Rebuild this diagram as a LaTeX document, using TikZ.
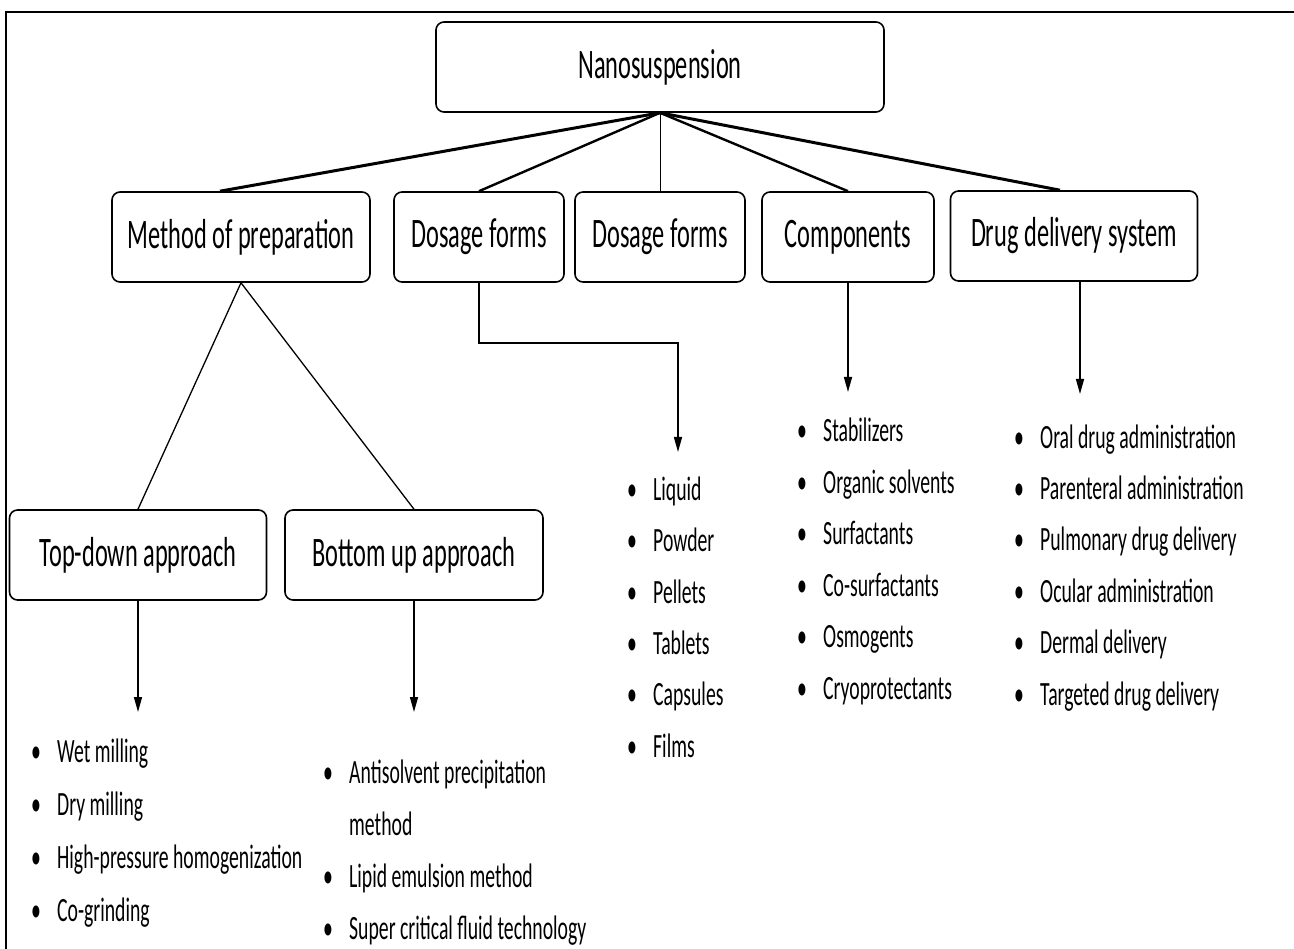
\documentclass[tikz,border=0pt]{standalone}
\usepackage{fontspec}
\newfontfamily\narrowfont[FakeStretch=0.58]{Carlito}
\usetikzlibrary{arrows.meta}

\newcommand{\itm}[1]{\makebox[26pt][l]{\textbullet}#1}

\begin{document}
\begin{tikzpicture}[
      x=1pt, y=-1pt,
      box/.style={
        draw,
        line width=1.6pt,
        rounded corners=8pt,
        minimum height=90pt,
        inner sep=0pt,
        font=\narrowfont\fontsize{42}{50}\selectfont
      },
      list/.style={
        anchor=base west,
        inner sep=0pt,
        align=left,
        font=\narrowfont\fontsize{34}{52}\selectfont
      },
      link/.style={line width=3pt},
      arrow/.style={line width=1.5pt, -{Triangle[length=15pt,width=8pt]}}
    ]

    \useasboundingbox (0,0) rectangle (1294,949);

    % Frame
    \draw[line width=2.5pt] (6,949) -- (6,12) -- (1294,12);

    % Central box
    \node[box, minimum width=448pt] (nano) at (660,67) {Nanosuspension};

    % Second row
    \node[box, minimum width=258pt] (method) at (241,237) {Method of preparation};
    \node[box, minimum width=170pt] (dosA) at (479,237) {Dosage forms};
    \node[box, minimum width=170pt] (dosB) at (660,237) {Dosage forms};
    \node[box, minimum width=172pt] (comp) at (848,237) {Components};
    \node[box, minimum width=247pt] (dds) at (1074,236) {Drug delivery system};

    % Approaches
    \node[box, minimum width=257pt] (topdown) at (138,555) {Top-down approach};
    \node[box, minimum width=258pt] (bottomup) at (414,555) {Bottom up approach};

    % Links from the top
    \draw[link] (nano.south) -- ([xshift=-21pt]method.north);
    \draw[line width=2.4pt] (nano.south) -- (dosA.north);
    \draw[line width=1pt] (nano.south) -- (dosB.north);
    \draw[line width=2.4pt] (nano.south) -- (comp.north);
    \draw[link] (nano.south) -- ([xshift=-14pt]dds.north);

    \draw[line width=1.3pt] (method.south) -- (topdown.north);
    \draw[line width=1.3pt] (method.south) -- (bottomup.north);

    % Arrow ends
    \coordinate (tdEnd) at (138,712);
    \coordinate (buEnd) at (414,712);
    \coordinate (dosEnd) at (678,452);
    \coordinate (compEnd) at (848,392);
    \coordinate (ddsEnd) at (1080,394);

    \draw[arrow] (topdown.south) -- (tdEnd);
    \draw[arrow] (bottomup.south) -- (buEnd);
    \draw[arrow] (dosA.south) -- ++(0,60) -| (dosEnd);
    \draw[arrow] (comp.south) -- (compEnd);
    \draw[arrow] ([xshift=6pt]dds.south) -- (ddsEnd);

    % Lists (placed by the baseline of their last line)
    \node[list, font=\narrowfont\fontsize{34}{52.7}\selectfont] (tdList) at (31,921) {%
      \itm{Wet milling}\\
      \itm{Dry milling}\\
      \itm{High-pressure homogenization}\\
      \itm{Co-grinding}};

    \node[list] (buList) at (323,939) {%
      \itm{Antisolvent precipitation}\\
      \makebox[26pt]{}method\\
      \itm{Lipid emulsion method}\\
      \itm{Super critical fluid technology}};

    \node[list, font=\narrowfont\fontsize{34}{51.3}\selectfont] (dosList) at (627,757) {%
      \itm{Liquid}\\
      \itm{Powder}\\
      \itm{Pellets}\\
      \itm{Tablets}\\
      \itm{Capsules}\\
      \itm{Films}};

    \node[list, font=\narrowfont\fontsize{34}{51.5}\selectfont] (compList) at (797,699) {%
      \itm{Stabilizers}\\
      \itm{Organic solvents}\\
      \itm{Surfactants}\\
      \itm{Co-surfactants}\\
      \itm{Osmogents}\\
      \itm{Cryoprotectants}};

    \node[list, font=\narrowfont\fontsize{34}{51.4}\selectfont] (ddsList) at (1014,705) {%
      \itm{Oral drug administration}\\
      \itm{Parenteral administration}\\
      \itm{Pulmonary drug delivery}\\
      \itm{Ocular administration}\\
      \itm{Dermal delivery}\\
      \itm{Targeted drug delivery}};

  \end{tikzpicture}
\end{document}
